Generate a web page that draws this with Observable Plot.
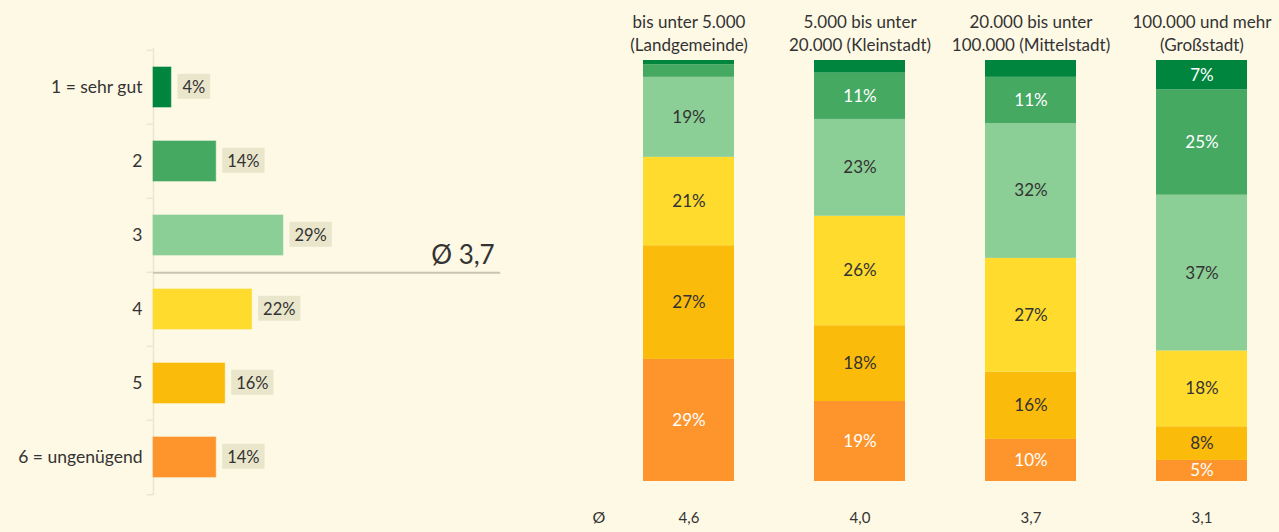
<!DOCTYPE html>
<html>
<head>
<meta charset="utf-8">
<script src="https://cdn.jsdelivr.net/npm/d3@7"></script>
<script src="https://cdn.jsdelivr.net/npm/@observablehq/plot@0.6"></script>
<style>
  html, body { margin: 0; padding: 0; background: #fef9e5; }
  #wrap { position: relative; width: 1279px; height: 532px; overflow: hidden; background: #fef9e5; font-family: Lato, sans-serif; }
  #left { position: absolute; left: 0; top: 0; }
  #right { position: absolute; left: 560px; top: 0; }
  svg { background: transparent !important; }
</style>
</head>
<body>
<div id="wrap"><div id="left"></div><div id="right"></div></div>
<script>
// ---- data ----
const grades = ["1 = sehr gut", "2", "3", "4", "5", "6 = ungenügend"];
const overallShares = [4, 14, 29, 22, 16, 14];
const overallAvgLabel = "Ø 3,7";
const cities = [
  "bis unter 5.000\n(Landgemeinde)",
  "5.000 bis unter\n20.000 (Kleinstadt)",
  "20.000 bis unter\n100.000 (Mittelstadt)",
  "100.000 und mehr\n(Großstadt)"
];
const landgemeinde = [1, 3, 19, 21, 27, 29];
const kleinstadt = [3, 11, 23, 26, 18, 19];
const mittelstadt = [4, 11, 32, 27, 16, 10];
const grossstadt = [7, 25, 37, 18, 8, 5];
const cityAvg = ["4,6", "4,0", "3,7", "3,1"];

// ---- styles ----
const gradeColors = ["#00853f", "#45a962", "#8bce96", "#fedb2d", "#fbbb0b", "#fe952c"];
const gradeText = ["#ffffff", "#ffffff", "#333333", "#333333", "#333333", "#ffffff"];
const font = "Lato, sans-serif";

// ---- left chart ----
const overallData = grades.map((g, i) => ({grade: g, gi: i, value: overallShares[i]}));
const step = (495 - 48) / 6;

const left = Plot.plot({
  width: 560,
  height: 532,
  marginTop: 48,
  marginBottom: 37,
  marginLeft: 153,
  marginRight: 0,
  style: {background: "transparent", fontFamily: font, fontSize: "17.5px", color: "#333"},
  x: {domain: [0, 90.85], axis: null},
  y: {domain: grades, paddingInner: 0.46, paddingOuter: 0.23, label: null, tickSize: 0, tickPadding: 11},
  color: {type: "identity"},
  marks: [
    Plot.ruleX([0], {stroke: "#ebe6cc", strokeWidth: 1.5}),
    Plot.ruleY(grades, {y: d => d, x1: 0, x2: -1.4, dy: -step / 2, stroke: "#ebe6cc", strokeWidth: 1.5}),
    Plot.ruleY([grades[grades.length - 1]], {y: d => d, x1: 0, x2: -1.4, dy: step / 2, stroke: "#ebe6cc", strokeWidth: 1.5}),
    Plot.barX(overallData, {y: "grade", x1: 0, x2: "value", fill: d => gradeColors[d.gi], stroke: d => gradeColors[d.gi], strokeOpacity: 0.6}),
    Plot.text(overallData, {y: "grade", x: "value", text: d => d.value + "%", textAnchor: "start", dx: 11, fill: "#333333", fontSize: 16.5}),
    Plot.ruleY([grades[2]], {y: d => d, x1: 0, x2: 77.5, dy: step / 2, stroke: "#c9c5b2", strokeWidth: 2}),
    Plot.text([overallAvgLabel], {x: 77.5, y: () => grades[2], text: d => d, textAnchor: "end", dx: -6, dy: 20, fontSize: 26, fill: "#333333"})
  ]
});
document.getElementById("left").appendChild(left);

// beige boxes behind value labels
const labelGroup = left.querySelector('g[aria-label="text"]');
if (labelGroup) {
  labelGroup.querySelectorAll("text").forEach(t => {
    const b = t.getBBox();
    const r = document.createElementNS("http://www.w3.org/2000/svg", "rect");
    r.setAttribute("x", b.x - 5);
    r.setAttribute("y", b.y - 3);
    r.setAttribute("width", b.width + 10);
    r.setAttribute("height", b.height + 5);
    r.setAttribute("fill", "#eae6cc");
    const tr = t.getAttribute("transform");
    if (tr) r.setAttribute("transform", tr);
    t.parentNode.insertBefore(r, t);
  });
}

// ---- right chart ----
const cityValues = [landgemeinde, kleinstadt, mittelstadt, grossstadt];
const stacked = [];
cities.forEach((c, ci) => {
  for (let gi = grades.length - 1; gi >= 0; gi--) {
    stacked.push({city: c, gi, grade: grades[gi], value: cityValues[ci][gi]});
  }
});

const right = Plot.plot({
  width: 719,
  height: 532,
  marginTop: 60,
  marginBottom: 51,
  marginLeft: 81,
  marginRight: 30,
  style: {background: "transparent", fontFamily: font, fontSize: "16px", color: "#333"},
  x: {domain: cities, paddingInner: 0.465, paddingOuter: 0, axis: null},
  y: {domain: [0, 100], axis: null},
  color: {type: "identity"},
  marks: [
    Plot.barY(stacked, Plot.stackY({x: "city", y: "value", fill: d => gradeColors[d.gi]})),
    Plot.text(stacked, Plot.stackY({x: "city", y: "value", text: d => d.value >= 5 ? d.value + "%" : "", fill: d => gradeText[d.gi], fontSize: 17})),
    Plot.text(cities, {x: d => d, text: d => d, frameAnchor: "top", lineAnchor: "bottom", dy: -10, lineHeight: 1.3, fill: "#333333", fontSize: 17}),
    Plot.text(cities, {x: d => d, text: (d, i) => cityAvg[i], frameAnchor: "bottom", dy: 41, fill: "#333333", fontSize: 15}),
    Plot.text(["Ø"], {text: d => d, frameAnchor: "bottom-left", dx: -49, dy: 41, fill: "#333333", fontSize: 16})
  ]
});
document.getElementById("right").appendChild(right);
</script>
</body>
</html>
